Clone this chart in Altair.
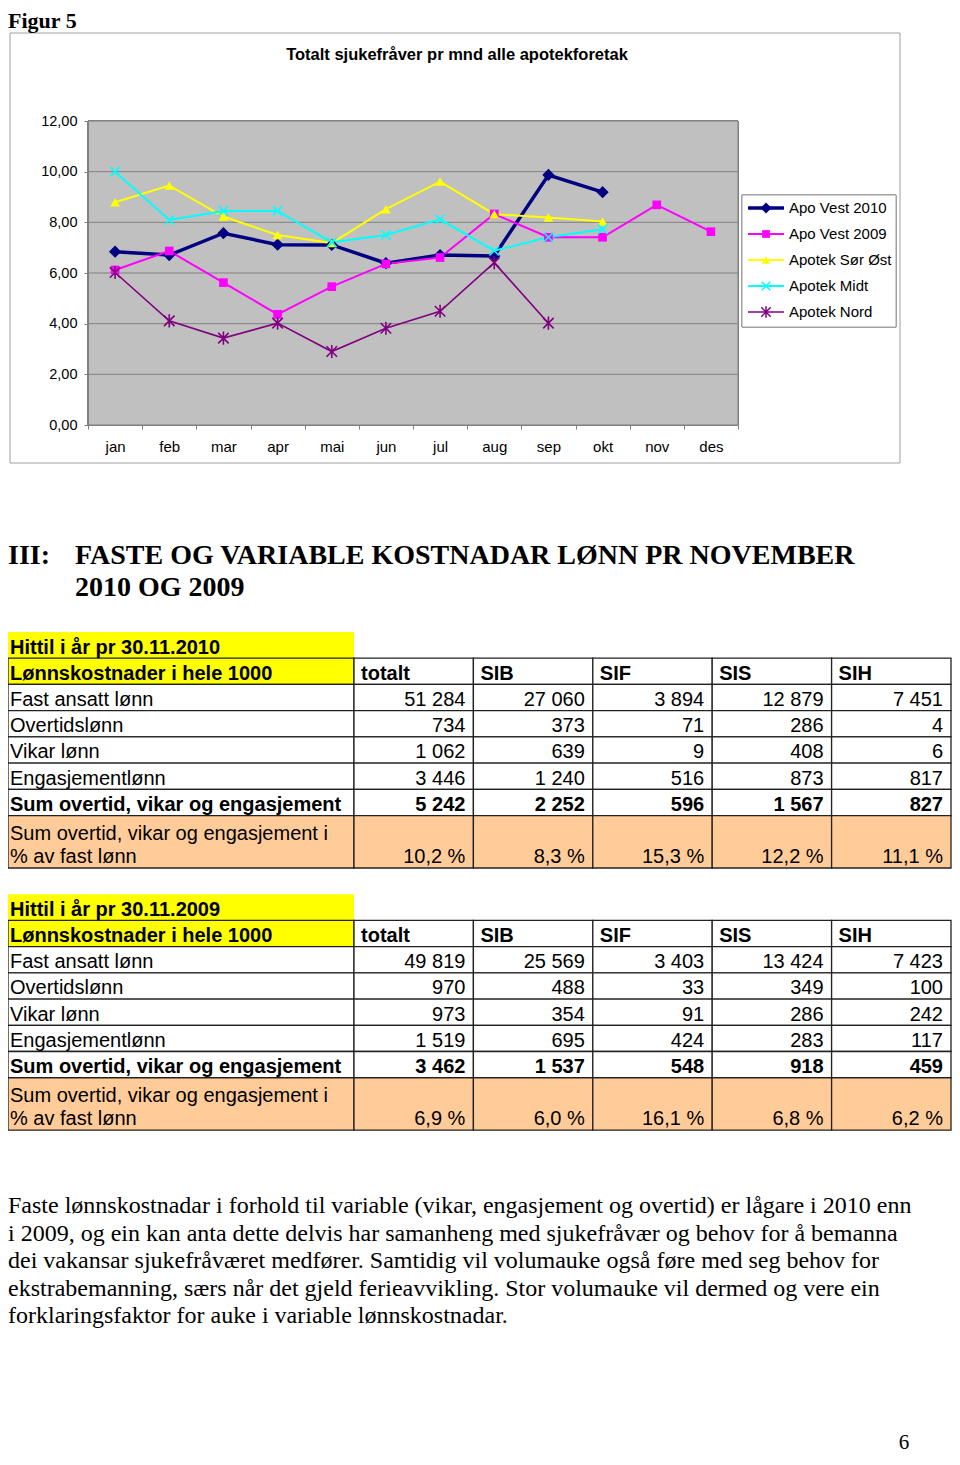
import altair as alt
import pandas as pd

# ---------------- data ----------------
MONTHS = ["jan", "feb", "mar", "apr", "mai", "jun", "jul", "aug", "sep", "okt", "nov", "des"]
SERIES = ["Apo Vest 2010", "Apo Vest 2009", "Apotek Sør Øst", "Apotek Midt", "Apotek Nord"]
VEST_2010 = [6.84, 6.71, 7.57, 7.12, 7.11, 6.39, 6.71, 6.67, 9.87, 9.19, None, None]
VEST_2009 = [6.12, 6.87, 5.62, 4.37, 5.46, 6.36, 6.61, 8.33, 7.41, 7.41, 8.69, 7.63]
SOR_OST = [8.79, 9.45, 8.23, 7.50, 7.18, 8.52, 9.61, 8.32, 8.19, 8.03, None, None]
MIDT = [10.00, 8.09, 8.45, 8.45, 7.21, 7.50, 8.12, 6.88, 7.41, 7.73, None, None]
NORD = [6.02, 4.11, 3.43, 4.02, 2.90, 3.82, 4.49, 6.41, 4.02, None, None, None]
Y_TICKS = [0, 2, 4, 6, 8, 10, 12]

FIG_LABEL = "Figur 5"
CHART_TITLE = "Totalt sjukefråver pr mnd alle apotekforetak"
HEAD_NUM = "III:"
HEAD_LINES = ["FASTE OG VARIABLE KOSTNADAR LØNN PR NOVEMBER", "2010 OG 2009"]

TABLE_COLS = ["totalt", "SIB", "SIF", "SIS", "SIH"]
HEADER_LABEL = "Lønnskostnader i hele 1000"
ROW_LABELS = ["Fast ansatt lønn", "Overtidslønn", "Vikar lønn", "Engasjementlønn",
              "Sum overtid, vikar og engasjement"]
PCT_LABEL = ["Sum overtid, vikar og engasjement i", "% av fast lønn"]

TITLE_2010 = "Hittil i år pr 30.11.2010"
FAST_2010 = [51284, 27060, 3894, 12879, 7451]
OVERTID_2010 = [734, 373, 71, 286, 4]
VIKAR_2010 = [1062, 639, 9, 408, 6]
ENGAS_2010 = [3446, 1240, 516, 873, 817]
SUM_2010 = [5242, 2252, 596, 1567, 827]
PCT_2010 = [10.2, 8.3, 15.3, 12.2, 11.1]

TITLE_2009 = "Hittil i år pr 30.11.2009"
FAST_2009 = [49819, 25569, 3403, 13424, 7423]
OVERTID_2009 = [970, 488, 33, 349, 100]
VIKAR_2009 = [973, 354, 91, 286, 242]
ENGAS_2009 = [1519, 695, 424, 283, 117]
SUM_2009 = [3462, 1537, 548, 918, 459]
PCT_2009 = [6.9, 6.0, 16.1, 6.8, 6.2]

PARAGRAPH = [
    "Faste lønnskostnadar i forhold til variable (vikar, engasjement og overtid) er lågare i 2010 enn",
    "i 2009, og ein kan anta dette delvis har samanheng med sjukefråvær og behov for å bemanna",
    "dei vakansar sjukefråværet medfører. Samtidig vil volumauke også føre med seg behov for",
    "ekstrabemanning, særs når det gjeld ferieavvikling. Stor volumauke vil dermed og vere ein",
    "forklaringsfaktor for auke i variable lønnskostnadar.",
]
PAGE_NO = "6"

# ---------------- styles / layout ----------------
SANS = "Liberation Sans"
SERIF = "Liberation Serif"
COLORS = ["#000080", "#FF00FF", "#FFFF00", "#00FFFF", "#800080"]
SHAPES = ["diamond", "square", "triangle-up",
          "M-1,-1L1,1M1,-1L-1,1",
          "M-1,-1L1,1M1,-1L-1,1M0,-1.25L0,1.25"]
LINE_W = dict(zip(SERIES, [3.5, 2, 2, 2, 1.6]))
MARK_SIZE = dict(zip(SERIES, [150, 75, 95, 90, 110]))
FILLED = dict(zip(SERIES, [True, True, True, False, False]))

OX, OY = 88, 121          # page position of plot area origin
PW, PH = 650, 304         # plot area size
PAGE_W, PAGE_H = 944, 1449
TFONT = 20


def vx(px):
    return px - OX


def vy(py):
    return py - OY


one = pd.DataFrame({"k": [0]})

# ---------------- line chart ----------------
rows = []
for s, vals in zip(SERIES, [VEST_2010, VEST_2009, SOR_OST, MIDT, NORD]):
    for m, v in zip(MONTHS, vals):
        if v is not None:
            rows.append({"month": m, "series": s, "value": v, "lw": LINE_W[s],
                         "ms": MARK_SIZE[s], "filled": FILLED[s]})
df = pd.DataFrame(rows)

x_axis = alt.Axis(title=None, labelAngle=0, labelFont=SANS, labelFontSize=15, labelColor="black",
                  tickBand="extent", tickSize=4, tickColor="#808080", domainColor="#808080",
                  labelPadding=10, grid=False, zindex=1)
y_axis = alt.Axis(title=None, values=Y_TICKS, labelExpr="replace(format(datum.value, '.2f'), '.', ',')",
                  labelFont=SANS, labelFontSize=14.5, labelColor="black", tickSize=4,
                  tickColor="#808080", domainColor="#808080", labelPadding=7, grid=False, zindex=1)
x_scale = alt.Scale(type="band", domain=MONTHS, paddingInner=0, paddingOuter=0)
y_scale = alt.Scale(domain=[0, 12], nice=False, zero=True)
x_enc = alt.X("month:N", scale=x_scale, axis=x_axis, bandPosition=0.5)
y_enc = alt.Y("value:Q", scale=y_scale, axis=y_axis)
color_enc = alt.Color("series:N", scale=alt.Scale(domain=SERIES, range=COLORS), legend=None)
shape_enc = alt.Shape("series:N", scale=alt.Scale(domain=SERIES, range=SHAPES), legend=None)

bg = alt.Chart(df).mark_rect(fill="#C0C0C0", stroke="#808080", strokeWidth=1).encode(
    x=alt.value(0), x2=alt.value(PW), y=alt.value(0), y2=alt.value(PH))
grid = alt.Chart(pd.DataFrame({"v": Y_TICKS[1:-1]})).mark_rule(color="#808080", strokeWidth=1).encode(
    y=alt.Y("v:Q", scale=y_scale, axis=y_axis), x=alt.value(0), x2=alt.value(PW))
lines = alt.Chart(df).mark_line().encode(
    x=x_enc, y=y_enc, color=color_enc, strokeWidth=alt.StrokeWidth("lw:Q", scale=None))
pts_f = alt.Chart(df).transform_filter("datum.filled").mark_point(filled=True, opacity=1).encode(
    x=x_enc, y=y_enc, color=color_enc, shape=shape_enc, size=alt.Size("ms:Q", scale=None))
pts_s = alt.Chart(df).transform_filter("!datum.filled").mark_point(filled=False, opacity=1, strokeWidth=1.6).encode(
    x=x_enc, y=y_enc, color=color_enc, shape=shape_enc, size=alt.Size("ms:Q", scale=None))
main = alt.layer(bg, grid, lines, pts_f, pts_s)

# frame + titles
frame = alt.Chart(one).mark_rect(fill="white", stroke="#A0A0A0", strokeWidth=1).encode(
    x=alt.value(vx(10)), x2=alt.value(vx(900)), y=alt.value(vy(33)), y2=alt.value(vy(463)))
fig_label = alt.Chart(one).mark_text(text=FIG_LABEL, font=SERIF, fontSize=22, fontWeight="bold",
                                     align="left", baseline="alphabetic", color="black").encode(
    x=alt.value(vx(8)), y=alt.value(vy(28)))
title = alt.Chart(one).mark_text(text=CHART_TITLE, font=SANS, fontSize=16.5, fontWeight="bold",
                                 align="center", baseline="alphabetic", color="black").encode(
    x=alt.value(vx(457)), y=alt.value(vy(60)))

# legend
leg_df = pd.DataFrame([{"series": s, "lw": LINE_W[s], "ms": MARK_SIZE[s] * 0.8, "filled": FILLED[s]}
                       for s in SERIES])
leg_y = alt.Y("series:N", scale=alt.Scale(type="point", domain=SERIES, range=[vy(208), vy(312)], padding=0),
              axis=None)
leg_box = alt.Chart(leg_df).mark_rect(fill="white", stroke="#A0A0A0", strokeWidth=1).encode(
    x=alt.value(vx(742)), x2=alt.value(vx(896)), y=alt.value(vy(195)), y2=alt.value(vy(327)))
leg_lines = alt.Chart(leg_df).mark_rule().encode(
    x=alt.value(vx(748)), x2=alt.value(vx(784)), y=leg_y, color=color_enc,
    strokeWidth=alt.StrokeWidth("lw:Q", scale=None))
leg_pf = alt.Chart(leg_df).transform_filter("datum.filled").mark_point(filled=True, opacity=1).encode(
    x=alt.value(vx(766)), y=leg_y, color=color_enc, shape=shape_enc, size=alt.Size("ms:Q", scale=None))
leg_ps = alt.Chart(leg_df).transform_filter("!datum.filled").mark_point(filled=False, opacity=1, strokeWidth=1.5).encode(
    x=alt.value(vx(766)), y=leg_y, color=color_enc, shape=shape_enc, size=alt.Size("ms:Q", scale=None))
leg_text = alt.Chart(leg_df).mark_text(align="left", baseline="middle", font=SANS, fontSize=15,
                                       color="black").encode(
    x=alt.value(vx(789)), y=leg_y, text="series:N")
legend = alt.layer(leg_box, leg_lines, leg_pf, leg_ps, leg_text)

# heading
head_num = alt.Chart(one).mark_text(text=HEAD_NUM, font=SERIF, fontSize=28, fontWeight="bold",
                                    align="left", baseline="alphabetic", color="black").encode(
    x=alt.value(vx(8)), y=alt.value(vy(564)))
head_txt = alt.Chart(one).mark_text(text="\n".join(HEAD_LINES), lineBreak="\n", lineHeight=32, font=SERIF,
                                    fontSize=28, fontWeight="bold", align="left", baseline="alphabetic",
                                    color="black").encode(
    x=alt.value(vx(75)), y=alt.value(vy(564)))

# ---------------- tables ----------------
YELLOW, PEACH, WHITE = "#FFFF00", "#FFCC99", "#FFFFFF"


def fmt_int(v):
    return f"{v:,}".replace(",", " ")


def fmt_pct(v):
    return f"{v:.1f}".replace(".", ",") + " %"


cells, texts = [], []
for off, ttl, data_rows, pct in [
    (0, TITLE_2010, [FAST_2010, OVERTID_2010, VIKAR_2010, ENGAS_2010, SUM_2010], PCT_2010),
    (10, TITLE_2009, [FAST_2009, OVERTID_2009, VIKAR_2009, ENGAS_2009, SUM_2009], PCT_2009),
]:
    cells.append({"x0": 0, "x1": 1, "y0": off, "y1": off + 1, "fill": YELLOW, "sw": 0})
    texts.append({"x": 0, "y": off + 1, "text": ttl, "kind": "label_b"})
    for c in range(6):
        cells.append({"x0": c, "x1": c + 1, "y0": off + 1, "y1": off + 2,
                      "fill": YELLOW if c == 0 else WHITE, "sw": 1.3})
    texts.append({"x": 0, "y": off + 2, "text": HEADER_LABEL, "kind": "label_b"})
    for c, name in enumerate(TABLE_COLS):
        texts.append({"x": c + 1, "y": off + 2, "text": name, "kind": "head"})
    for r, (lab, vals) in enumerate(zip(ROW_LABELS, data_rows)):
        y0 = off + 2 + r
        bold = r == len(ROW_LABELS) - 1
        for c in range(6):
            cells.append({"x0": c, "x1": c + 1, "y0": y0, "y1": y0 + 1, "fill": WHITE, "sw": 1.3})
        texts.append({"x": 0, "y": y0 + 1, "text": lab, "kind": "label_b" if bold else "label"})
        for c, v in enumerate(vals):
            texts.append({"x": c + 2, "y": y0 + 1, "text": fmt_int(v), "kind": "num_b" if bold else "num"})
    for c in range(6):
        cells.append({"x0": c, "x1": c + 1, "y0": off + 7, "y1": off + 9, "fill": PEACH, "sw": 1.3})
    texts.append({"x": 0, "y": off + 9, "text": "\n".join(PCT_LABEL), "kind": "pct_label"})
    for c, v in enumerate(pct):
        texts.append({"x": c + 2, "y": off + 9, "text": fmt_pct(v), "kind": "num"})

cells_df = pd.DataFrame(cells)
texts_df = pd.DataFrame(texts)

TX = alt.Scale(domain=[0, 1, 6], range=[vx(8), vx(354), vx(951)], nice=False, zero=False)
TY = alt.Scale(domain=[0, 19], range=[vy(632), vy(632 + 19 * 26.22)], nice=False, zero=False)

t_rect = alt.Chart(cells_df).mark_rect(stroke="#222222").encode(
    x=alt.X("x0:Q", scale=TX, axis=None), x2="x1:Q",
    y=alt.Y("y0:Q", scale=TY, axis=None), y2="y1:Q",
    fill=alt.Fill("fill:N", scale=None), strokeWidth=alt.StrokeWidth("sw:Q", scale=None))


def tlayer(kind, align, dx, bold, dy=-4.7, **kw):
    return alt.Chart(texts_df).transform_filter(f"datum.kind == '{kind}'").mark_text(
        align=align, baseline="alphabetic", dx=dx, dy=dy, font=SANS, fontSize=TFONT,
        fontWeight="bold" if bold else "normal", color="black", **kw).encode(
        x=alt.X("x:Q", scale=TX, axis=None), y=alt.Y("y:Q", scale=TY, axis=None), text="text:N")


tables = alt.layer(
    t_rect,
    tlayer("label", "left", 2, False),
    tlayer("label_b", "left", 2, True),
    tlayer("head", "left", 7, True),
    tlayer("num", "right", -8, False),
    tlayer("num_b", "right", -8, True),
    tlayer("pct_label", "left", 2, False, dy=-28, lineBreak="\n", lineHeight=23.3),
)

# paragraph + page number
para = alt.Chart(one).mark_text(text="\n".join(PARAGRAPH), lineBreak="\n", lineHeight=27.5, font=SERIF,
                                fontSize=24, align="left", baseline="alphabetic", color="black").encode(
    x=alt.value(vx(8)), y=alt.value(vy(1213)))
page_no = alt.Chart(one).mark_text(text=PAGE_NO, font=SERIF, fontSize=21, align="center",
                                   baseline="alphabetic", color="black").encode(
    x=alt.value(vx(904)), y=alt.value(vy(1449)))

chart = alt.layer(
    frame, fig_label, title, main, legend, head_num, head_txt, tables, para, page_no
).resolve_scale(x="independent", y="independent").properties(
    width=PW, height=PH,
    autosize=alt.AutoSizeParams(type="none"),
    padding={"left": OX - 8, "top": OY - 8, "right": PAGE_W - (OX - 8) - PW,
             "bottom": PAGE_H - (OY - 8) - PH},
    background="white",
).configure_view(stroke=None)

chart.save("out.html", embed_options={"renderer": "svg", "actions": False})
